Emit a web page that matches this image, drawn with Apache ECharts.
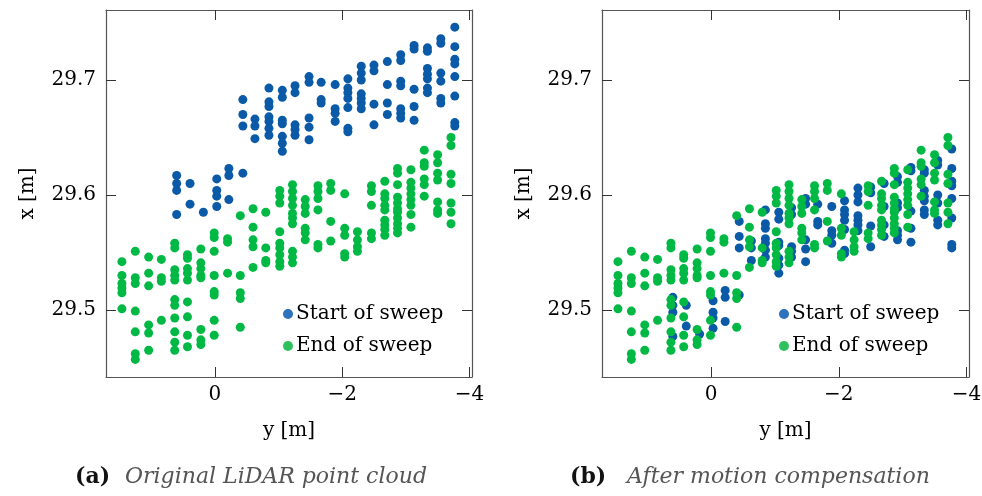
<!DOCTYPE html>
<html><head><meta charset="utf-8">
<script src="https://cdn.jsdelivr.net/npm/echarts@6/dist/echarts.min.js"></script>
<style>html,body{margin:0;padding:0;background:#fff}#c{width:982px;height:496px}</style>
</head><body><div id="c"></div>
<script>
// [y (m), x (m)]
const startOriginal = [
 [0.60,29.617],[0.60,29.610],[0.60,29.604],[0.60,29.583],
 [0.39,29.610],[0.39,29.592],
 [0.18,29.585],
 [-0.03,29.614],[-0.03,29.604],[-0.03,29.599],[-0.03,29.590],
 [-0.22,29.623],[-0.22,29.617],[-0.22,29.596],
 [-0.44,29.619],
 [-0.44,29.683],[-0.44,29.670],[-0.44,29.660],
 [-0.63,29.666],[-0.63,29.660],[-0.63,29.649],
 [-0.85,29.693],[-0.85,29.681],[-0.85,29.677],[-0.85,29.668],[-0.85,29.664],[-0.85,29.658],[-0.85,29.652],
 [-1.06,29.691],[-1.06,29.685],[-1.06,29.665],[-1.06,29.662],[-1.06,29.651],[-1.06,29.645],[-1.06,29.638],
 [-1.26,29.695],[-1.26,29.689],[-1.26,29.661],[-1.26,29.657],[-1.26,29.652],
 [-1.48,29.703],[-1.48,29.698],[-1.48,29.667],[-1.48,29.659],[-1.48,29.648],
 [-1.67,29.698],[-1.67,29.683],[-1.67,29.680],
 [-1.89,29.696],[-1.89,29.675],[-1.89,29.671],[-1.89,29.664],
 [-2.09,29.701],[-2.09,29.693],[-2.09,29.689],[-2.09,29.684],[-2.09,29.676],[-2.09,29.658],[-2.09,29.655],
 [-2.30,29.712],[-2.30,29.706],[-2.30,29.700],[-2.30,29.688],[-2.30,29.684],[-2.30,29.680],[-2.30,29.675],
 [-2.50,29.713],[-2.50,29.708],[-2.50,29.679],[-2.50,29.661],
 [-2.71,29.716],[-2.71,29.696],[-2.71,29.680],[-2.71,29.670],
 [-2.92,29.722],[-2.92,29.717],[-2.92,29.699],[-2.92,29.695],[-2.92,29.675],[-2.92,29.671],[-2.92,29.667],
 [-3.13,29.730],[-3.13,29.727],[-3.13,29.692],[-3.13,29.677],[-3.13,29.665],
 [-3.34,29.728],[-3.34,29.725],[-3.34,29.710],[-3.34,29.705],[-3.34,29.701],[-3.34,29.693],[-3.34,29.689],
 [-3.55,29.736],[-3.55,29.732],[-3.55,29.706],[-3.55,29.699],[-3.55,29.684],[-3.55,29.680],
 [-3.77,29.746],[-3.77,29.729],[-3.77,29.718],[-3.77,29.714],[-3.77,29.703],[-3.77,29.686],[-3.77,29.663],[-3.77,29.660]
];
const startCompensated = [
 [0.60,29.511],[0.60,29.504],[0.60,29.498],[0.60,29.477],
 [0.39,29.504],[0.39,29.486],
 [0.18,29.479],
 [-0.03,29.508],[-0.03,29.498],[-0.03,29.493],[-0.03,29.484],
 [-0.22,29.517],[-0.22,29.511],[-0.22,29.490],
 [-0.44,29.513],
 [-0.44,29.577],[-0.44,29.564],[-0.44,29.554],
 [-0.63,29.560],[-0.63,29.554],[-0.63,29.543],
 [-0.85,29.587],[-0.85,29.575],[-0.85,29.571],[-0.85,29.562],[-0.85,29.558],[-0.85,29.552],[-0.85,29.546],
 [-1.06,29.585],[-1.06,29.579],[-1.06,29.559],[-1.06,29.556],[-1.06,29.545],[-1.06,29.539],[-1.06,29.532],
 [-1.26,29.589],[-1.26,29.583],[-1.26,29.555],[-1.26,29.551],[-1.26,29.546],
 [-1.48,29.597],[-1.48,29.592],[-1.48,29.561],[-1.48,29.553],[-1.48,29.542],
 [-1.67,29.592],[-1.67,29.577],[-1.67,29.574],
 [-1.89,29.590],[-1.89,29.569],[-1.89,29.565],[-1.89,29.558],
 [-2.09,29.595],[-2.09,29.587],[-2.09,29.583],[-2.09,29.578],[-2.09,29.570],[-2.09,29.552],[-2.09,29.549],
 [-2.30,29.606],[-2.30,29.600],[-2.30,29.594],[-2.30,29.582],[-2.30,29.578],[-2.30,29.574],[-2.30,29.569],
 [-2.50,29.607],[-2.50,29.602],[-2.50,29.573],[-2.50,29.555],
 [-2.71,29.610],[-2.71,29.590],[-2.71,29.574],[-2.71,29.564],
 [-2.92,29.616],[-2.92,29.611],[-2.92,29.593],[-2.92,29.589],[-2.92,29.569],[-2.92,29.565],[-2.92,29.561],
 [-3.13,29.624],[-3.13,29.621],[-3.13,29.586],[-3.13,29.571],[-3.13,29.559],
 [-3.34,29.622],[-3.34,29.619],[-3.34,29.604],[-3.34,29.599],[-3.34,29.595],[-3.34,29.587],[-3.34,29.583],
 [-3.55,29.630],[-3.55,29.626],[-3.55,29.600],[-3.55,29.593],[-3.55,29.578],[-3.55,29.574],
 [-3.77,29.640],[-3.77,29.623],[-3.77,29.612],[-3.77,29.608],[-3.77,29.597],[-3.77,29.580],[-3.77,29.557],[-3.77,29.554]
];
const endOfSweep = [
 [1.46,29.542],[1.46,29.530],[1.46,29.523],[1.46,29.519],[1.46,29.515],[1.46,29.501],
 [1.25,29.551],[1.25,29.528],[1.25,29.523],[1.25,29.499],[1.25,29.481],[1.25,29.462],[1.25,29.457],
 [1.04,29.546],[1.04,29.532],[1.04,29.521],[1.04,29.487],[1.04,29.480],[1.04,29.465],
 [0.84,29.544],[0.84,29.528],[0.84,29.525],[0.84,29.491],
 [0.63,29.558],[0.63,29.554],[0.63,29.535],[0.63,29.530],[0.63,29.526],[0.63,29.509],[0.63,29.504],[0.63,29.493],[0.63,29.481],[0.63,29.472],[0.63,29.465],
 [0.43,29.548],[0.43,29.545],[0.43,29.536],[0.43,29.532],[0.43,29.526],[0.43,29.507],[0.43,29.494],[0.43,29.478],[0.43,29.468],
 [0.22,29.553],[0.22,29.541],[0.22,29.536],[0.22,29.530],[0.22,29.528],[0.22,29.483],[0.22,29.474],[0.22,29.470],
 [0.01,29.567],[0.01,29.563],[0.01,29.551],[0.01,29.530],[0.01,29.516],[0.01,29.513],[0.01,29.491],[0.01,29.478],
 [-0.20,29.562],[-0.20,29.559],[-0.20,29.532],
 [-0.40,29.582],[-0.40,29.530],[-0.40,29.515],[-0.40,29.510],[-0.40,29.485],
 [-0.60,29.588],[-0.60,29.572],[-0.60,29.561],[-0.60,29.555],[-0.60,29.537],
 [-0.80,29.585],[-0.80,29.554],[-0.80,29.543],[-0.80,29.541],
 [-1.02,29.604],[-1.02,29.599],[-1.02,29.593],[-1.02,29.568],[-1.02,29.558],[-1.02,29.554],[-1.02,29.548],[-1.02,29.542],[-1.02,29.538],
 [-1.22,29.609],[-1.22,29.603],[-1.22,29.597],[-1.22,29.591],[-1.22,29.584],[-1.22,29.580],[-1.22,29.575],[-1.22,29.551],[-1.22,29.546],[-1.22,29.541],
 [-1.42,29.596],[-1.42,29.590],[-1.42,29.584],[-1.42,29.571],[-1.42,29.567],[-1.42,29.561],
 [-1.62,29.608],[-1.62,29.603],[-1.62,29.597],[-1.62,29.587],[-1.62,29.557],[-1.62,29.554],
 [-1.82,29.610],[-1.82,29.604],[-1.82,29.577],[-1.82,29.560],
 [-2.04,29.601],[-2.04,29.571],[-2.04,29.565],[-2.04,29.549],[-2.04,29.546],
 [-2.24,29.568],[-2.24,29.561],[-2.24,29.555],[-2.24,29.551],
 [-2.46,29.608],[-2.46,29.603],[-2.46,29.591],[-2.46,29.567],[-2.46,29.562],
 [-2.67,29.612],[-2.67,29.601],[-2.67,29.597],[-2.67,29.591],[-2.67,29.587],[-2.67,29.578],[-2.67,29.574],[-2.67,29.570],[-2.67,29.565],
 [-2.87,29.623],[-2.87,29.619],[-2.87,29.609],[-2.87,29.598],[-2.87,29.593],[-2.87,29.588],[-2.87,29.585],[-2.87,29.580],[-2.87,29.575],[-2.87,29.571],[-2.87,29.567],
 [-3.08,29.622],[-3.08,29.611],[-3.08,29.606],[-3.08,29.601],[-3.08,29.596],[-3.08,29.591],[-3.08,29.583],[-3.08,29.572],
 [-3.29,29.639],[-3.29,29.628],[-3.29,29.625],[-3.29,29.614],[-3.29,29.609],[-3.29,29.599],
 [-3.50,29.635],[-3.50,29.628],[-3.50,29.619],[-3.50,29.613],[-3.50,29.594],[-3.50,29.587],[-3.50,29.584],
 [-3.71,29.650],[-3.71,29.643],[-3.71,29.618],[-3.71,29.610],[-3.71,29.593],[-3.71,29.585],[-3.71,29.575]
];
const xTickValues = [0, -2, -4];
const yTickValues = [29.5, 29.6, 29.7];
const seriesNames = ['Start of sweep', 'End of sweep'];
const captionLabels = ['(a)', '(b)'];
const captionTexts = ['Original LiDAR point cloud', 'After motion compensation'];

const FONT = 'DejaVu Serif';
const BLUE = '#0a5aa7', GREEN = '#00b944';
const AX = '#555';

function fmtX(v){ return v < 0 ? '\u2212' + Math.abs(v) : String(v); }

const grids = [
  {left:106, top:10, width:366, height:367, outerBoundsMode:'none', containLabel:false},
  {left:602, top:10, width:367, height:367, outerBoundsMode:'none', containLabel:false}
];
const xAxis = [], yAxis = [];
grids.forEach((g, gi) => {
  const base = {gridIndex:gi, type:'value', inverse:true, min:-4.04, max:1.71, splitLine:{show:false},
    axisLine:{show:true, onZero:false, lineStyle:{color:AX, width:1.2}}};
  xAxis.push(Object.assign({}, base, {position:'bottom',
    axisTick:{show:true, inside:true, length:10, customValues:xTickValues, lineStyle:{color:'#333'}},
    axisLabel:{show:true, customValues:xTickValues, formatter:fmtX, fontFamily:FONT, fontSize:20, color:'#000', margin:8},
    name:'y [m]', nameLocation:'middle', nameGap:44, nameTextStyle:{fontFamily:FONT, fontSize:20, color:'#000'}}));
  xAxis.push(Object.assign({}, base, {position:'top',
    axisTick:{show:true, inside:true, length:10, customValues:xTickValues, lineStyle:{color:'#333'}},
    axisLabel:{show:false}}));
  const ybase = {gridIndex:gi, type:'value', min:29.4417, max:29.7609, splitLine:{show:false},
    axisLine:{show:true, onZero:false, lineStyle:{color:AX, width:1.2}}};
  yAxis.push(Object.assign({}, ybase, {position:'left',
    axisTick:{show:true, inside:true, length:10, customValues:yTickValues, lineStyle:{color:'#333'}},
    axisLabel:{show:true, customValues:yTickValues, formatter:v => v.toFixed(1), fontFamily:FONT, fontSize:20, color:'#000', margin:10},
    name:'x [m]', nameLocation:'middle', nameGap:68, nameTextStyle:{fontFamily:FONT, fontSize:20, color:'#000'}}));
  yAxis.push(Object.assign({}, ybase, {position:'right',
    axisTick:{show:true, inside:true, length:10, customValues:yTickValues, lineStyle:{color:'#333'}},
    axisLabel:{show:false}}));
});

function sc(name, data, gi, color){
  return {type:'scatter', name, data, xAxisIndex:gi*2, yAxisIndex:gi*2, symbol:'circle', symbolSize:9,
    itemStyle:{color, opacity:1}, animation:false, silent:true};
}
const series = [
  sc(seriesNames[0], startOriginal, 0, BLUE),
  sc(seriesNames[1], endOfSweep, 0, GREEN),
  sc(seriesNames[0], startCompensated, 1, BLUE),
  sc(seriesNames[1], endOfSweep, 1, GREEN)
];
const legendBase = {data:[{name:seriesNames[0], itemStyle:{color:'#2d72bb'}}, {name:seriesNames[1], itemStyle:{color:'#2ec15e'}}],
  orient:'vertical', itemWidth:10, itemHeight:10, itemGap:12, icon:'circle',
  textStyle:{fontFamily:FONT, fontSize:20, color:'#000', padding:[0,0,0,-2]}, selectedMode:false};
const legend = [
  Object.assign({}, legendBase, {left:278, top:299}),
  Object.assign({}, legendBase, {left:774, top:299})
];
const captionX = [[75, 125], [570, 627]];
const graphic = [];
captionLabels.forEach((lab, i) => {
  graphic.push({type:'text', left:captionX[i][0], top:466, style:{text:lab, font:'bold 22px "DejaVu Serif"', fill:'#111'}});
  graphic.push({type:'text', left:captionX[i][1], top:466, style:{text:captionTexts[i], font:'italic 22px "DejaVu Serif"', fill:'#555'}});
});

const chart = echarts.init(document.getElementById('c'), null, {renderer:'canvas'});
chart.setOption({animation:false, grid:grids, xAxis, yAxis, series, legend, graphic});
</script></body></html>
